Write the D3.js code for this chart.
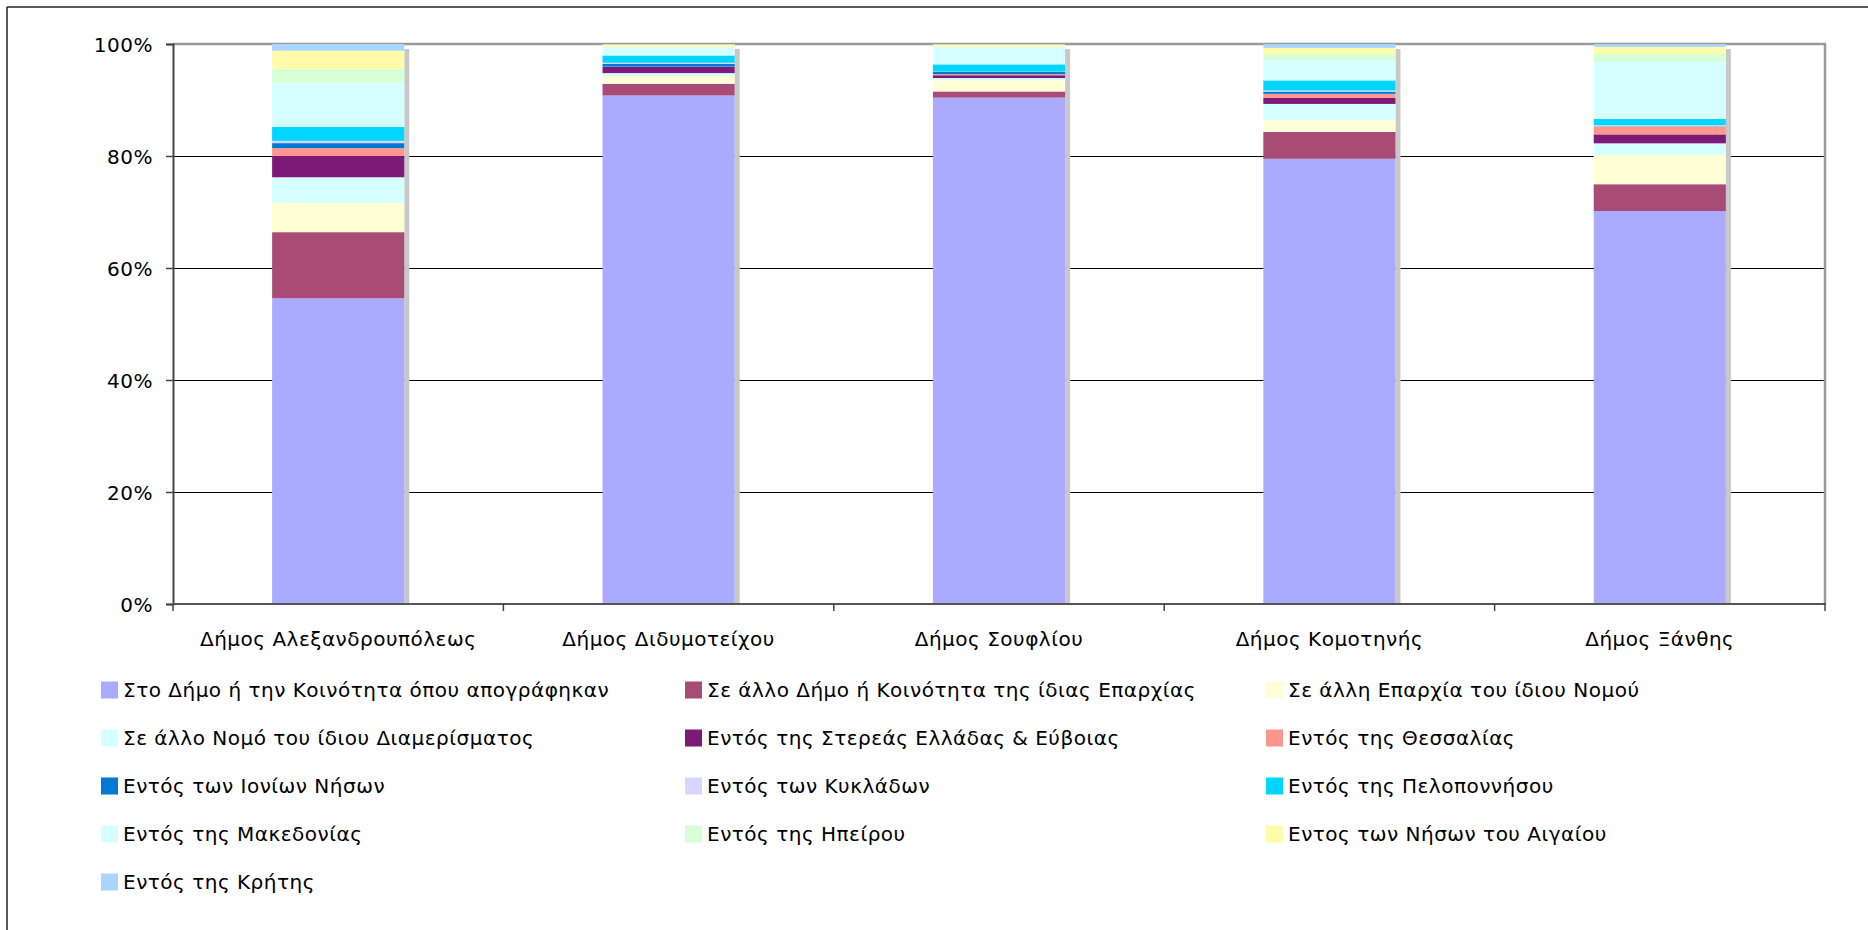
<!DOCTYPE html>
<html>
<head>
<meta charset="utf-8">
<script src="https://cdn.jsdelivr.net/npm/d3@7/dist/d3.min.js"></script>
<style>
  html, body { margin: 0; padding: 0; background: #fff; }
  svg { display: block; }
  text { font-family: "DejaVu Sans", Verdana, sans-serif; fill: #000; }
</style>
</head>
<body>
<svg id="chart" width="1868" height="930"></svg>
<script>
// ---- Data ----
const categories = ["Δήμος Αλεξανδρουπόλεως", "Δήμος Διδυμοτείχου", "Δήμος Σουφλίου", "Δήμος Κομοτηνής", "Δήμος Ξάνθης"];
const seriesNames = [
  "Στο Δήμο ή την Κοινότητα όπου απογράφηκαν",
  "Σε άλλο Δήμο ή Κοινότητα της ίδιας Επαρχίας",
  "Σε άλλη Επαρχία του ίδιου Νομού",
  "Σε άλλο Νομό του ίδιου Διαμερίσματος",
  "Εντός της Στερεάς Ελλάδας & Εύβοιας",
  "Εντός της Θεσσαλίας",
  "Εντός των Ιονίων Νήσων",
  "Εντός των Κυκλάδων",
  "Εντός της Πελοποννήσου",
  "Εντός της Μακεδονίας",
  "Εντός της Ηπείρου",
  "Εντος των Νήσων του Αιγαίου",
  "Εντός της Κρήτης"
];
const seriesColors = ["#AAAAFF", "#A94B77", "#FFFFD6", "#D6FFFF", "#7D1A78", "#FF978C", "#0079D6", "#D6D6FF", "#00D6FF", "#D6FFFF", "#D6FFD6", "#FFFBA8", "#A8D6FF"];
// percentages per category (same order as categories)
const sameDimos      = [54.6, 90.9, 90.7, 79.5, 70.2];
const otherDimos     = [11.8, 2.1, 1.1, 4.8, 4.8];
const otherEparchia  = [5.2, 1.4, 2.0, 2.1, 5.2];
const otherNomos     = [4.6, 0.5, 0.4, 2.9, 2.1];
const sterea         = [3.8, 1.1, 0.5, 1.1, 1.6];
const thessalia      = [1.4, 0.05, 0.2, 0.7, 1.4];
const ionia          = [0.9, 0.5, 0.4, 0.4, 0.05];
const kyklades       = [0.4, 0.2, 0.05, 0.2, 0.2];
const peloponnisos   = [2.5, 1.3, 1.3, 1.8, 1.1];
const makedonia      = [7.9, 1.5, 3.1, 3.6, 10.2];
const ipeiros        = [2.5, 0.05, 0.05, 1.1, 1.4];
const aigaio         = [3.2, 0.45, 0.45, 1.1, 1.3];
const kriti          = [1.2, 0.05, 0.05, 0.7, 0.5];
const seriesValues = [sameDimos, otherDimos, otherEparchia, otherNomos, sterea, thessalia, ionia, kyklades, peloponnisos, makedonia, ipeiros, aigaio, kriti];
const yTicks = [0, 0.2, 0.4, 0.6, 0.8, 1.0];

// ---- Layout ----
const svg = d3.select("#chart");
const plot = { left: 173, right: 1825, top: 44, bottom: 604 };
const FONT = "20px", LS = "0.5px";

const table = categories.map((c, i) => {
  const row = { cat: c };
  seriesNames.forEach((s, j) => row[s] = seriesValues[j][i]);
  return row;
});
const stack = d3.stack().keys(seriesNames).offset(d3.stackOffsetExpand);
const stacked = stack(table);

const x = d3.scaleBand().domain(categories).range([plot.left, plot.right]).paddingInner(0.6).paddingOuter(0.3);
const y = d3.scaleLinear().domain([0, 1]).range([plot.bottom, plot.top]);
const color = d3.scaleOrdinal().domain(seriesNames).range(seriesColors);

// outer frame (left & top visible)
svg.append("line").attr("x1", 7).attr("x2", 7).attr("y1", 7).attr("y2", 930).attr("stroke", "#222").attr("stroke-width", 1.5);
svg.append("line").attr("x1", 7).attr("x2", 1868).attr("y1", 7).attr("y2", 7).attr("stroke", "#222").attr("stroke-width", 1.5);

// gridlines
svg.append("g").selectAll("line").data(yTicks.filter(t => t > 0 && t < 1)).join("line")
  .attr("x1", plot.left).attr("x2", plot.right)
  .attr("y1", d => Math.round(y(d)) + 0.5).attr("y2", d => Math.round(y(d)) + 0.5)
  .attr("stroke", "#000").attr("stroke-width", 1);
// top and right plot border
svg.append("line").attr("x1", plot.left).attr("x2", plot.right + 1).attr("y1", y(1)).attr("y2", y(1)).attr("stroke", "#999").attr("stroke-width", 2.5);
svg.append("line").attr("x1", plot.right).attr("x2", plot.right).attr("y1", y(1)).attr("y2", y(0)).attr("stroke", "#999").attr("stroke-width", 2.5);

// bar shadows
svg.append("g").selectAll("rect").data(categories).join("rect")
  .attr("x", d => x(d) + x.bandwidth())
  .attr("y", y(1) + 5)
  .attr("width", 5)
  .attr("height", y(0) - y(1) - 5)
  .attr("fill", "#C8C8C8");

// bars
svg.append("g").selectAll("g").data(stacked).join("g")
  .attr("fill", d => color(d.key))
  .selectAll("rect").data(d => d).join("rect")
  .attr("x", d => x(d.data.cat))
  .attr("y", d => y(d[1]))
  .attr("height", d => y(d[0]) - y(d[1]))
  .attr("width", x.bandwidth());

// y axis
const yAxis = d3.axisLeft(y).tickValues(yTicks).tickFormat(d3.format(".0%")).tickSize(7).tickPadding(13);
const gy = svg.append("g").attr("transform", `translate(${plot.left},0)`).call(yAxis);
gy.select(".domain").attr("stroke", "#444").attr("stroke-width", 2);
gy.selectAll(".tick line").attr("stroke", "#444").attr("stroke-width", 1.5);
gy.selectAll("text").style("font-size", FONT).style("letter-spacing", LS).attr("dy", "0.36em");

// x axis (ticks at category boundaries)
const step = x.step();
const boundaries = categories.map(c => x(c) - (step - x.bandwidth()) / 2).concat([plot.right]);
svg.append("line").attr("x1", plot.left - 1).attr("x2", plot.right + 1).attr("y1", y(0)).attr("y2", y(0)).attr("stroke", "#555").attr("stroke-width", 2);
svg.append("g").selectAll("line").data(boundaries).join("line")
  .attr("x1", d => d).attr("x2", d => d).attr("y1", y(0)).attr("y2", y(0) + 7)
  .attr("stroke", "#444").attr("stroke-width", 1.5);
svg.append("g").selectAll("text").data(categories).join("text")
  .attr("x", d => x(d) + x.bandwidth() / 2)
  .attr("y", y(0) + 42)
  .attr("text-anchor", "middle")
  .style("font-size", FONT).style("letter-spacing", LS)
  .text(d => d);

// legend
const legCols = [101, 685, 1266];
const legRow0 = 690, legRowStep = 48;
const leg = svg.append("g").selectAll("g").data(seriesNames).join("g")
  .attr("transform", (d, i) => `translate(${legCols[i % 3]},${legRow0 + Math.floor(i / 3) * legRowStep})`);
leg.append("rect").attr("x", 0).attr("y", -8.5).attr("width", 17).attr("height", 17).attr("fill", d => color(d));
leg.append("text").attr("x", 22).attr("y", 0).attr("dy", "0.36em").style("font-size", FONT).style("letter-spacing", LS).text(d => d);
</script>
</body>
</html>
